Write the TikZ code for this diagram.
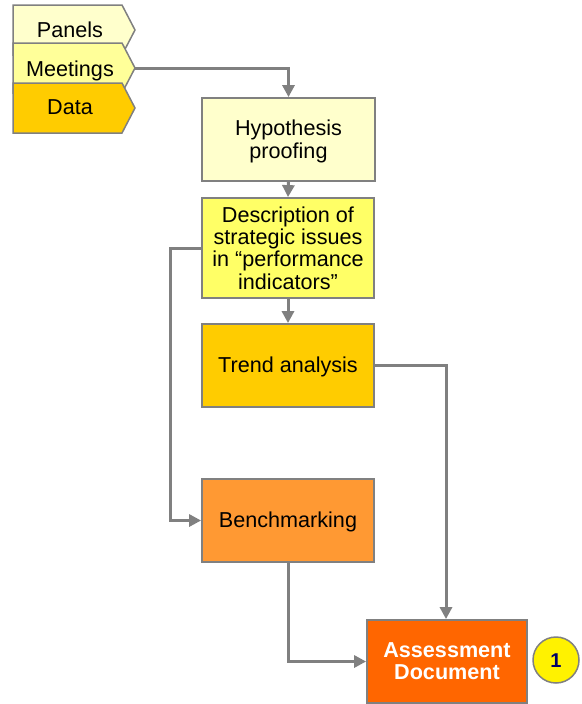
\documentclass[tikz,border=0pt]{standalone}
\usepackage{fontspec}
\setmainfont{Liberation Sans}
\usetikzlibrary{arrows.meta}
\definecolor{edge}{HTML}{808080}
\definecolor{paleY}{HTML}{FFFFCC}
\definecolor{lightY}{HTML}{FFFF99}
\definecolor{midY}{HTML}{FFFF66}
\definecolor{gold}{HTML}{FFCC00}
\definecolor{orangeL}{HTML}{FF9933}
\definecolor{orangeD}{HTML}{FF6600}
\definecolor{navy}{HTML}{000066}
% #1 = raise so that the cap-centre of the block sits on the node centre
\newcommand\boxlines[2]{\raisebox{#1}[0pt][0pt]{\begin{tabular}[t]{@{}c@{}}#2\end{tabular}}}
\tikzset{
  tab/.style={draw=edge, line width=1.5pt, line join=miter},
  box/.style={draw=edge, line width=1.8pt, align=center, inner sep=0pt,
    font=\fontsize{21.6}{22}\selectfont},
  conn/.style={draw=edge, line width=3pt, -{Triangle[length=12pt,width=12pt]}},
  tabtext/.style={font=\fontsize{21.6}{22}\selectfont, inner sep=0pt, text height=14.8pt, text depth=0pt}
}
\begin{document}
\begin{tikzpicture}[x=1pt,y=-1pt]
\useasboundingbox (0,0) rectangle (581,704);
% tabs
\filldraw[tab, fill=paleY] (13,5) -- (122,5) -- (135,30) -- (122,55) -- (13,55) -- cycle;
\filldraw[tab, fill=lightY] (13,43) -- (122,43) -- (135,68) -- (122,93) -- (13,93) -- cycle;
\filldraw[tab, fill=gold] (13,83) -- (122,83) -- (135,108) -- (122,133) -- (13,133) -- cycle;
\node[tabtext] (panels) at (70,30) {Panels};
\node[tabtext] (meetings) at (70,69.5) {Meetings};
\node[tabtext] (data) at (70,107.5) {Data};
\coordinate (mtip) at (135,68);
% boxes
\node[box, fill=paleY, minimum width=173pt, minimum height=83pt] (hyp) at (288.5,139.5) {\boxlines{3.6pt}{Hypothesis\\proofing}};
\node[box, fill=midY, minimum width=172pt, minimum height=100pt] (desc) at (288,248) {\boxlines{25.6pt}{Description of\\strategic issues\\in “performance\\indicators”}};
\node[box, fill=gold, minimum width=172pt, minimum height=83pt] (trend) at (288,365.5) {\boxlines{-7.4pt}{Trend analysis}};
\node[box, fill=orangeL, minimum width=172pt, minimum height=83pt] (bench) at (288,520.5) {\boxlines{-7.4pt}{Benchmarking}};
\node[box, fill=orangeD, text=white, minimum width=160pt, minimum height=83pt,
  font=\fontsize{21.6}{22}\selectfont\bfseries] (assess) at (447,661.5) {\boxlines{3.6pt}{Assessment\\Document}};
\node[circle, draw=edge, line width=1.5pt, fill=yellow, minimum size=46pt, inner sep=0pt,
  text=navy, text height=14pt, text depth=0pt, font=\fontsize{20}{20}\selectfont\bfseries] (one) at (556,660) {1};
\coordinate (dl) at (170,248);
% connectors
\draw[conn] (mtip) -| (hyp.north);
\draw[conn] (hyp.south) -- (desc.north);
\draw[conn] (desc.south) -- (trend.north);
\draw[conn] (desc.west) -- (dl) |- (bench.west);
\draw[conn] (trend.east) -| ([xshift=-1pt]assess.north);
\draw[conn] (bench.south) |- (assess.west);
\end{tikzpicture}
\end{document}
